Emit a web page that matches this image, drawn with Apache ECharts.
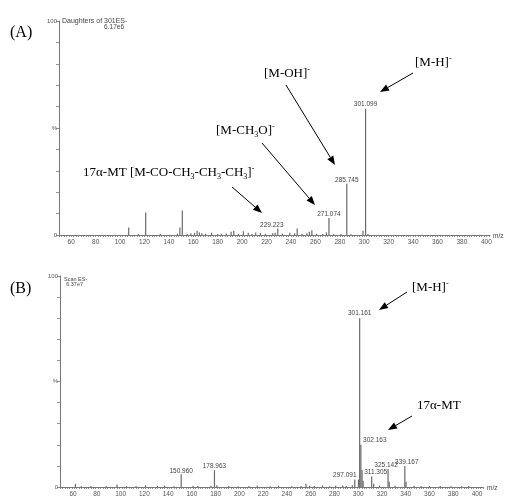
<!DOCTYPE html>
<html><head><meta charset="utf-8">
<script src="https://cdn.jsdelivr.net/npm/echarts@6/dist/echarts.min.js"></script>
<style>html,body{margin:0;padding:0;background:#fff}#c{width:508px;height:499px}</style>
</head><body><div id="c"></div>
<script>
// ---- data ----
const xTickLabels = [60,80,100,120,140,160,180,200,220,240,260,280,300,320,340,360,380,400];
// Panel A: Daughters of 301ES- (m/z, relative intensity %)
const aMz  = [107.1,115,121.0,133,147,149.0,151.0,155,158,161,163.1,165.0,167,170,175.0,180,183,187,191.0,193.1,197,201.0,205.0,208,211.1,215.0,219,225,227,229.2,233,239,243,245.1,249,253,255.0,257.1,261,266,269,271.1,275,281,285.7,289,299.0,301.1,303];
const aInt = [3.5,0.5,10.5,0.5,0.6,3.5,11.5,0.6,0.8,1,2,1.2,0.8,0.6,1,0.5,0.6,0.7,1.5,2,0.6,1.8,1,0.5,1.2,1,0.6,0.8,1,3,0.6,1,0.8,3,0.6,0.8,1.5,2.2,0.6,0.5,1.2,8,0.5,0.5,24,0.4,2,59,0.5];
const aLabelMz   = [229.2,271.1,285.7,301.1];
const aLabelText = ['229.223','271.074','285.745','301.099'];
// Panel B: Scan ES-
const bMz  = [62,67,75,88,97,105,113,121,131,137,145,151.0,161,165,176,179.0,181,191,199,208,215,226,233,244,252,256,259,263,270,276,281,287,290,295,297.1,300.2,301.2,302.2,303.2,304.1,311.3,313,318,325.1,326.1,331,339.2,340.2,347,353,360,369,378,387,393];
const bInt = [1.5,0.4,0.5,0.4,1.2,0.4,0.5,0.8,0.5,0.6,0.4,6,0.6,0.5,0.6,8,0.8,0.5,0.4,0.5,0.6,0.4,0.6,0.4,0.5,1.5,0.6,0.5,0.7,0.4,0.6,0.7,0.5,0.8,3.5,3.5,80,20,8,3,5,1.5,0.6,8.5,2.5,0.6,10,2.5,0.6,0.5,0.4,0.5,0.4,0.4,0.5];
const bLabelMz   = [151.0,179.0,297.1,301.2,302.2,311.3,325.1,339.2];
const bLabelText = ['150.960','178.963','297.091','301.161','302.163','311.305','325.142','339.167'];

// ---- build ----
const grey = '#6a6a6a';
const labOffsets = {'229.223':[-6,1],'271.074':[0,1],'285.745':[0,1],'301.099':[0,0],
  '150.960':[0,1],'178.963':[0,1],'297.091':[-10,0],'301.161':[0,0],'302.163':[14,0],
  '311.305':[4,0],'325.142':[-2,1],'339.167':[2,1]};
function build(mz, it, lmz, ltxt){
  return mz.map((m,i)=>{
    const k = lmz.indexOf(m);
    const d = {value:[m, it[i]]};
    if(k>=0){
      d.label = {show:true, position:'top', formatter: ltxt[k], fontSize:6.5,
        fontFamily:'Liberation Sans', color:'#444', distance:1, offset: labOffsets[ltxt[k]]};
    }
    return d;
  });
}
function ticksFrom(a,b){ const t=[]; for(let v=a; v<=b; v+=2) t.push(v); return t; }

function xAx(gi, mn, mx){
  return {type:'value', gridIndex:gi, min:mn, max:mx,
    axisLine:{show:true, lineStyle:{color:'#777', width:1}},
    axisTick:{show:true, customValues:ticksFrom(mn, mx), length:2, lineStyle:{color:'#777', width:0.8}},
    axisLabel:{show:true, customValues:xTickLabels, fontSize:6.5, color:'#555', margin:4, fontFamily:'Liberation Sans'},
    splitLine:{show:false}};
}
function yAx(gi){
  return {type:'value', gridIndex:gi, min:0, max:100, interval:10,
    axisLine:{show:true, lineStyle:{color:'#777', width:1}},
    axisTick:{show:true, length:3, lineStyle:{color:'#777', width:0.8}},
    axisLabel:{fontSize:6, color:'#555', margin:2, fontFamily:'Liberation Sans',
      formatter:v=> v===100?'100':(v===50?'%':(v===0?'0':''))},
    splitLine:{show:false}};
}

function arrow(x1,y1,x2,y2){
  const a = Math.atan2(y2-y1, x2-x1), L=9, W=3.5;
  const bx = x2 - L*Math.cos(a), by = y2 - L*Math.sin(a);
  const px = -Math.sin(a)*W, py = Math.cos(a)*W;
  return [
    {type:'line', shape:{x1:x1,y1:y1,x2:bx,y2:by}, style:{stroke:'#000', lineWidth:1}},
    {type:'polygon', shape:{points:[[x2,y2],[bx+px,by+py],[bx-px,by-py]]}, style:{fill:'#000'}}
  ];
}
const serif = 'Liberation Serif';
const rich = {t:{fontSize:13, fontFamily:serif, color:'#000', lineHeight:16},
  sup:{fontSize:8, fontFamily:serif, color:'#000', verticalAlign:'top', lineHeight:16, padding:[0,0,7,0]},
  sub:{fontSize:8, fontFamily:serif, color:'#000', verticalAlign:'bottom', lineHeight:16, padding:[5,0,0,0]}};
function rtext(x,y,s){
  return {type:'text', x:x, y:y, style:{text:s, rich:rich, font:'13px '+serif, fill:'#000', textVerticalAlign:'middle'}};
}
function small(x,y,s,align,fs){
  return {type:'text', x:x, y:y, style:{text:s, fontSize:fs||6.5, fontFamily:'Liberation Sans', fill:'#444', textAlign:align||'left', textVerticalAlign:'middle'}};
}

const graphics = [
  {type:'text', x:10, y:33, style:{text:'(A)', font:'16px '+serif, fill:'#000', textVerticalAlign:'middle'}},
  {type:'text', x:10, y:289, style:{text:'(B)', font:'16px '+serif, fill:'#000', textVerticalAlign:'middle'}},
  small(62,21,'Daughters of 301ES-','left',7), small(124,27,'6.17e6','right'),
  small(64,279,'Scan ES-','left',5.5), small(83,284,'6.37e7','right',5.5),
  small(493,236,'m/z'), small(487,488,'m/z'),
  rtext(415,63,'{t|[M-H]}{sup|-}'),
  rtext(264,74,'{t|[M-OH]}{sup|-}'),
  rtext(216,131,'{t|[M-CH}{sub|3}{t|O]}{sup|-}'),
  rtext(83,173,'{t|17α-MT [M-CO-CH}{sub|3}{t|-CH}{sub|3}{t|-CH}{sub|3}{t|]}{sup|-}'),
  rtext(412,288,'{t|[M-H]}{sup|-}'),
  rtext(417,406,'{t|17α-MT}'),
  ...arrow(413,73,380,92),
  ...arrow(286,85,335,165),
  ...arrow(262,143,315,205),
  ...arrow(232,187,262,213),
  ...arrow(407,292,379,310),
  ...arrow(412,416,388,430)
];

const chart = echarts.init(document.getElementById('c'), null, {renderer:'canvas'});
chart.setOption({
  animation:false,
  backgroundColor:'#fff',
  grid:[{left:59, top:21, width:431, height:214, containLabel:false, outerBoundsMode:'none'},
        {left:60, top:276, width:423, height:211, containLabel:false, outerBoundsMode:'none'}],
  xAxis:[xAx(0, 50, 403), xAx(1, 49, 405)],
  yAxis:[yAx(0), yAx(1)],
  series:[
    {type:'bar', xAxisIndex:0, yAxisIndex:0, barWidth:1.2, itemStyle:{color:grey}, data:build(aMz,aInt,aLabelMz,aLabelText)},
    {type:'bar', xAxisIndex:1, yAxisIndex:1, barWidth:1.2, itemStyle:{color:grey}, data:build(bMz,bInt,bLabelMz,bLabelText)}
  ],
  graphic:graphics
});
</script></body></html>
